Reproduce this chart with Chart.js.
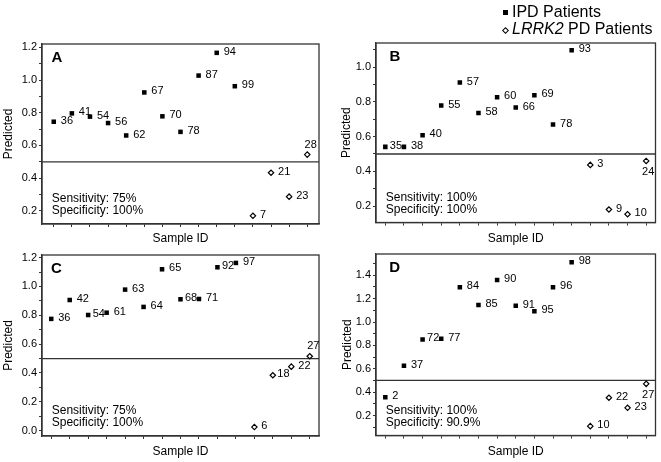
<!DOCTYPE html>
<html>
<head>
<meta charset="utf-8">
<script src="https://cdn.jsdelivr.net/npm/chart.js@4"></script>
<style>
  body { margin: 0; background: #fff; }
  #wrap { position: relative; width: 661px; height: 462px; font-family: "Liberation Sans", Arial, sans-serif; color: #000; }
  #wrap canvas { position: absolute; }
  .leg { position: absolute; left: 512px; font-size: 16px; line-height: 17px; white-space: nowrap; }
  .sq { position: absolute; left: 503px; top: 10px; width: 5px; height: 5px; background: #000; }
  .dm { position: absolute; left: 502.5px; top: 27.5px; width: 3px; height: 3px; border: 1.1px solid #000; transform: rotate(45deg); }
</style>
</head>
<body>
<div id="wrap">
  <canvas id="cA"></canvas>
  <canvas id="cB"></canvas>
  <canvas id="cC"></canvas>
  <canvas id="cD"></canvas>
  <div class="sq"></div>
  <div class="leg" style="top:3px">IPD Patients</div>
  <div class="dm"></div>
  <div class="leg" style="top:20px"><i>LRRK2</i> PD Patients</div>
</div>
<script>
// x positions are just the sample order 1..15
const sampleTicks = [1, 2, 3, 4, 5, 6, 7, 8, 9, 10, 11, 12, 13, 14, 15];

// Panel A
const aIpdIds = ["36", "41", "54", "56", "62", "67", "70", "78", "87", "94", "99"];
const aIpdPred = [0.745, 0.796, 0.776, 0.737, 0.661, 0.924, 0.778, 0.683, 1.027, 1.166, 0.962];
const aLrrkIds = ["7", "21", "23", "28"];
const aLrrkPred = [0.170, 0.433, 0.287, 0.544];
const aYTicks = [0.2, 0.3, 0.4, 0.5, 0.6, 0.7, 0.8, 0.9, 1.0, 1.1, 1.2];

// Panel B
const bIpdIds = ["35", "38", "40", "55", "57", "58", "60", "66", "69", "78", "93"];
const bIpdPred = [0.541, 0.541, 0.608, 0.779, 0.912, 0.737, 0.827, 0.768, 0.839, 0.670, 1.098];
const bLrrkIds = ["3", "9", "10", "24"];
const bLrrkPred = [0.437, 0.180, 0.153, 0.460];
const bYTicks = [0.2, 0.3, 0.4, 0.5, 0.6, 0.7, 0.8, 0.9, 1.0, 1.1];

// Panel C
const cIpdIds = ["36", "42", "54", "61", "63", "64", "65", "68", "71", "92", "97"];
const cIpdPred = [0.775, 0.906, 0.802, 0.818, 0.978, 0.858, 1.119, 0.911, 0.913, 1.133, 1.163];
const cLrrkIds = ["6", "18", "22", "27"];
const cLrrkPred = [0.025, 0.384, 0.444, 0.516];
const cYTicks = [0.0, 0.1, 0.2, 0.3, 0.4, 0.5, 0.6, 0.7, 0.8, 0.9, 1.0, 1.1, 1.2];

// Panel D
const dIpdIds = ["2", "37", "72", "77", "84", "85", "90", "91", "95", "96", "98"];
const dIpdPred = [0.357, 0.626, 0.851, 0.857, 1.297, 1.146, 1.360, 1.140, 1.092, 1.297, 1.511];
const dLrrkIds = ["10", "22", "23", "27"];
const dLrrkPred = [0.109, 0.352, 0.266, 0.471];
const dYTicks = [0.1, 0.2, 0.3, 0.4, 0.5, 0.6, 0.7, 0.8, 0.9, 1.0, 1.1, 1.2, 1.3, 1.4, 1.5];

const cutoff = 0.5;

const panels = [
  { canvas: "cA", letter: "A", sens: "75%", spec: "100%",
    ipdIds: aIpdIds, ipdPred: aIpdPred, lrrkIds: aLrrkIds, lrrkPred: aLrrkPred, yTicks: aYTicks,
    box: { left: 0, top: 0, w: 330, h: 248 }, area: { left: 42, top: 44, right: 319, bottom: 224 },
    xMin: 0.35, xMax: 15.65, yMin: 0.12, yMax: 1.22, yTitlePad: 2.5, xTitlePad: 3,
    letterDx: 9.5, place: { "28": "a" } },
  { canvas: "cB", letter: "B", sens: "100%", spec: "100%",
    ipdIds: bIpdIds, ipdPred: bIpdPred, lrrkIds: bLrrkIds, lrrkPred: bLrrkPred, yTicks: bYTicks,
    box: { left: 330, top: 0, w: 331, h: 248 }, area: { left: 46, top: 43, right: 325.5, bottom: 222.5 },
    xMin: 0.5, xMax: 15.5, yMin: 0.105, yMax: 1.14, yTitlePad: 10.7, xTitlePad: 3,
    letterDx: 13.5, place: { "35": "c", "24": "b" } },
  { canvas: "cC", letter: "C", sens: "75%", spec: "100%",
    ipdIds: cIpdIds, ipdPred: cIpdPred, lrrkIds: cLrrkIds, lrrkPred: cLrrkPred, yTicks: cYTicks,
    box: { left: 0, top: 248, w: 330, h: 214 }, area: { left: 42, top: 7, right: 319, bottom: 188 },
    xMin: 0.5, xMax: 15.5, yMin: -0.037, yMax: 1.218, yTitlePad: 2.5, xTitlePad: 4.3,
    letterDx: 9, place: { "54": "c", "68": "c", "92": "c", "18": "c", "27": "a" } },
  { canvas: "cD", letter: "D", sens: "100%", spec: "90.9%",
    ipdIds: dIpdIds, ipdPred: dIpdPred, lrrkIds: dLrrkIds, lrrkPred: dLrrkPred, yTicks: dYTicks,
    box: { left: 330, top: 248, w: 331, h: 214 }, area: { left: 46, top: 6, right: 325.5, bottom: 187.5 },
    xMin: 0.5, xMax: 15.5, yMin: 0.029, yMax: 1.582, yTitlePad: 12, xTitlePad: 4.3,
    letterDx: 13.3, place: { "72": "c", "27": "b" } }
];

const FONT = "'Liberation Sans', Arial, sans-serif";
const frameColor = "#333";

// frame, cut-off line, point labels, letters and sens/spec text
const decor = {
  id: "decor",
  beforeDatasetsDraw(chart) {
    const { ctx, chartArea: a } = chart;
    const y = chart.scales.y.getPixelForValue(cutoff);
    ctx.save();
    ctx.strokeStyle = frameColor;
    ctx.lineWidth = 1.3;
    ctx.strokeRect(a.left, a.top, a.right - a.left, a.bottom - a.top);
    ctx.beginPath();
    ctx.moveTo(a.left, y);
    ctx.lineTo(a.right, y);
    ctx.stroke();
    ctx.restore();
  },
  afterDatasetsDraw(chart) {
    const p = chart.options.plugins.decor.panel;
    const { ctx, chartArea: a } = chart;
    ctx.save();
    ctx.fillStyle = "#000";
    ctx.font = "11px " + FONT;
    [p.ipdIds, p.lrrkIds].forEach((ids, di) => {
      chart.getDatasetMeta(di).data.forEach((pt, i) => {
        const t = ids[i];
        const where = p.place[t] || "r";
        ctx.textBaseline = "middle";
        if (where === "a") {
          ctx.textAlign = "center";
          ctx.fillText(t, pt.x + 3.5, pt.y - 10);
        } else if (where === "b") {
          ctx.textAlign = "center";
          ctx.fillText(t, pt.x + 2, pt.y + 11);
        } else {
          ctx.textAlign = "left";
          ctx.fillText(t, pt.x + (where === "c" ? 4.5 : 7), pt.y - 1);
        }
      });
    });
    ctx.textAlign = "left";
    ctx.textBaseline = "middle";
    ctx.font = "bold 15px " + FONT;
    ctx.fillText(p.letter, a.left + p.letterDx, a.top + 13.5);
    ctx.font = "12px " + FONT;
    ctx.fillText("Sensitivity: " + p.sens, a.left + 9.7, a.bottom - 25);
    ctx.fillText("Specificity: " + p.spec, a.left + 9.7, a.bottom - 13);
    ctx.restore();
  }
};

panels.forEach(p => {
  const cv = document.getElementById(p.canvas);
  cv.width = p.box.w;
  cv.height = p.box.h;
  cv.style.left = p.box.left + "px";
  cv.style.top = p.box.top + "px";

  const nIpd = p.ipdPred.length;
  const ipdPts = p.ipdPred.map((v, i) => ({ x: sampleTicks[i], y: v }));
  const lrrkPts = p.lrrkPred.map((v, i) => ({ x: sampleTicks[nIpd + i], y: v }));

  new Chart(cv, {
    type: "scatter",
    data: {
      datasets: [
        { label: "IPD Patients", data: ipdPts, pointStyle: "rect", pointRadius: 3.2,
          backgroundColor: "#000", borderColor: "#000", borderWidth: 0 },
        { label: "LRRK2 PD Patients", data: lrrkPts, pointStyle: "rectRot", pointRadius: 2.7,
          backgroundColor: "#fff", borderColor: "#000", borderWidth: 1.2 }
      ]
    },
    options: {
      responsive: false,
      animation: false,
      events: [],
      layout: { padding: { left: 0, top: p.area.top, right: p.box.w - p.area.right, bottom: 0 } },
      scales: {
        x: {
          type: "linear", min: p.xMin, max: p.xMax,
          afterBuildTicks: s => { s.ticks = sampleTicks.map(v => ({ value: v })); },
          afterFit: s => { s.height = p.box.h - p.area.bottom; s.paddingLeft = 0; s.paddingRight = 0; },
          ticks: { callback: () => "", padding: 0 },
          grid: { drawOnChartArea: false, tickLength: 3, color: frameColor },
          border: { color: frameColor, width: 1.3 },
          title: { display: true, text: "Sample ID", color: "#000",
                   font: { family: FONT, size: 12, lineHeight: 1 }, padding: { top: 0, bottom: p.xTitlePad } }
        },
        y: {
          min: p.yMin, max: p.yMax,
          afterBuildTicks: s => { s.ticks = p.yTicks.map(v => ({ value: v })); },
          afterFit: s => { s.width = p.area.left; s.paddingTop = 0; s.paddingBottom = 0; },
          ticks: {
            color: "#000", padding: 2, autoSkip: false,
            font: { family: FONT, size: 11 },
            callback: v => (Math.round(v * 10) % 2 === 0 ? v.toFixed(1) : "")
          },
          grid: { drawOnChartArea: false, tickLength: 3, color: frameColor },
          border: { color: frameColor, width: 1.3 },
          title: { display: true, text: "Predicted", color: "#000",
                   font: { family: FONT, size: 12, lineHeight: 1 }, padding: { top: p.yTitlePad, bottom: 0 } }
        }
      },
      plugins: {
        legend: { display: false },
        tooltip: { enabled: false },
        decor: { panel: p }
      }
    },
    plugins: [decor]
  });
});
</script>
</body>
</html>
